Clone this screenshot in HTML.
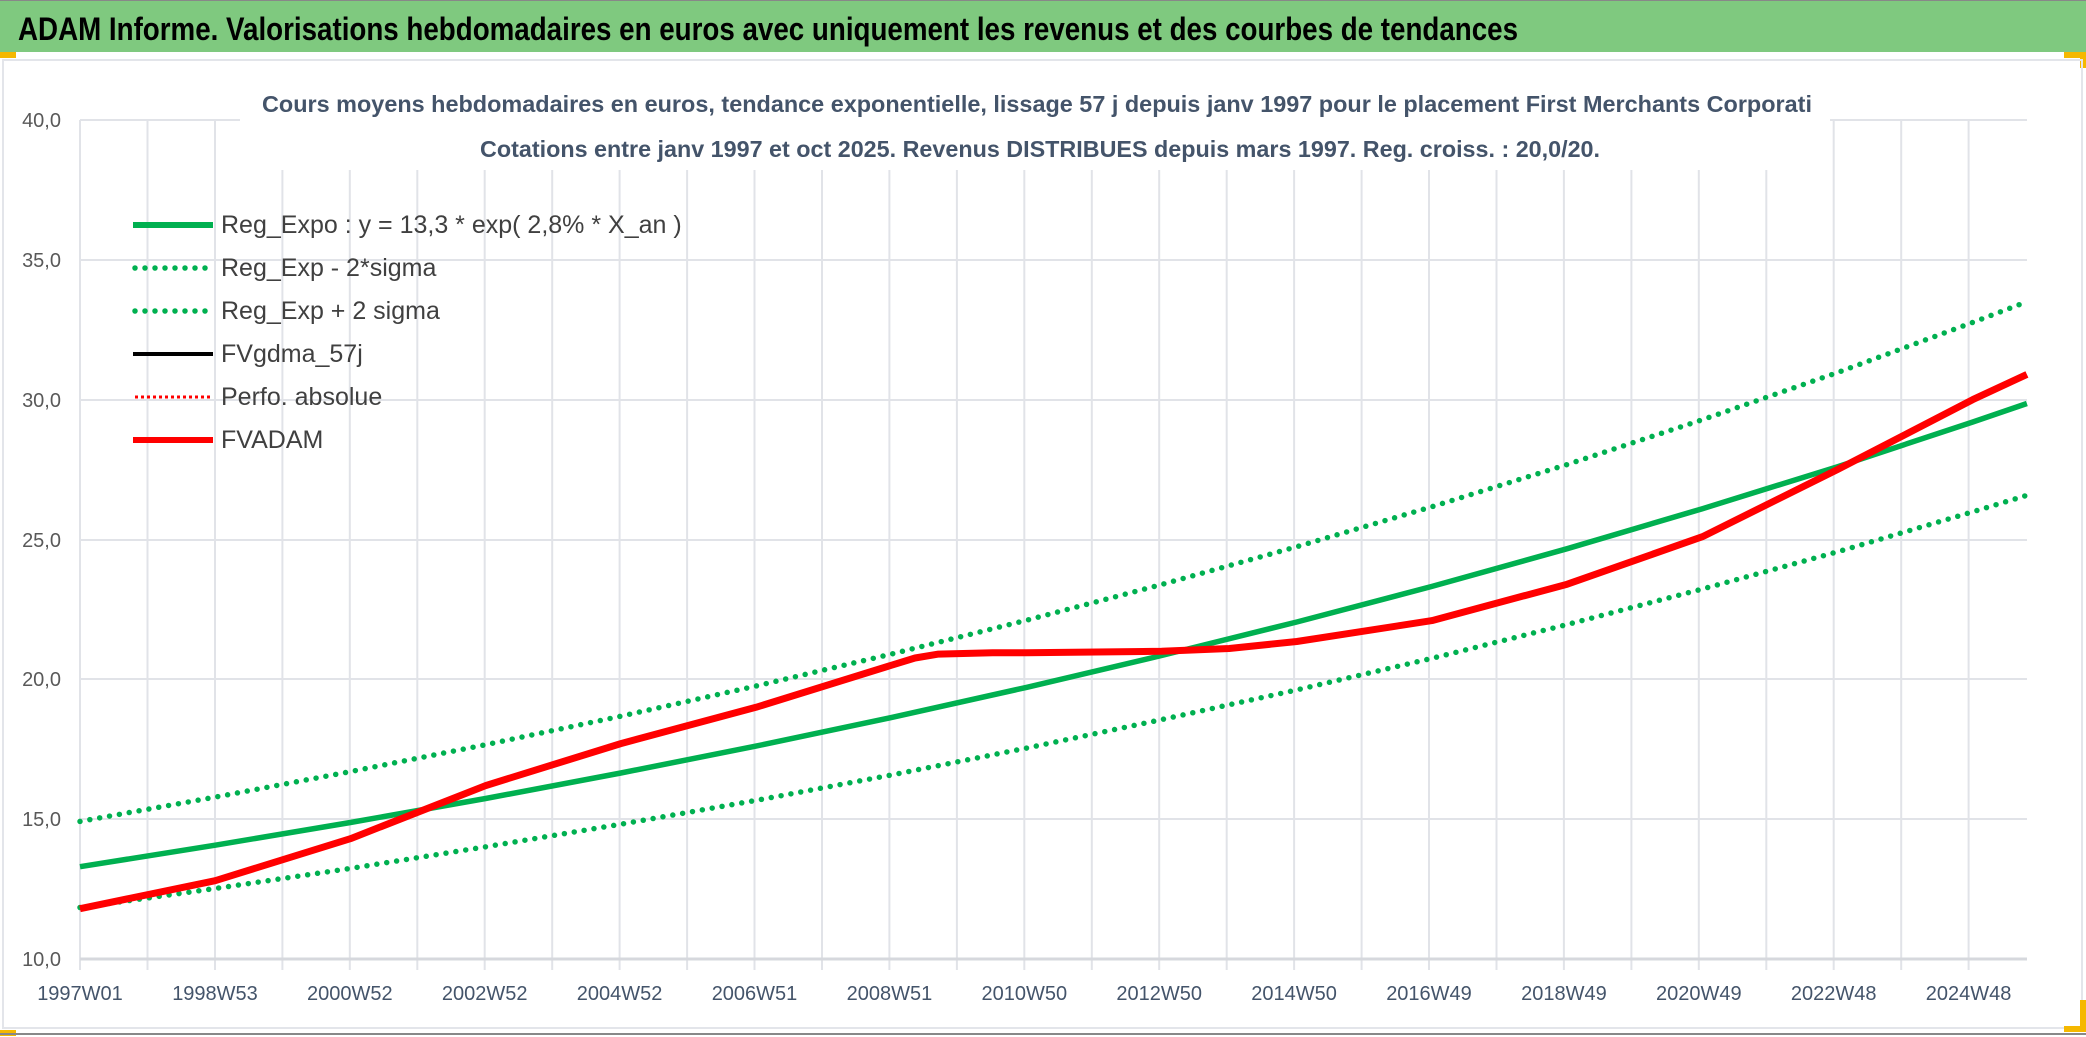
<!DOCTYPE html>
<html><head><meta charset="utf-8"><style>
html,body{margin:0;padding:0;background:#fff;}
body{width:2086px;height:1037px;overflow:hidden;position:relative;font-family:"Liberation Sans",sans-serif;}
</style></head><body>
<svg width="2086" height="1037" viewBox="0 0 2086 1037" xmlns="http://www.w3.org/2000/svg" style="position:absolute;left:0;top:0">
<rect x="0" y="0" width="2086" height="1037" fill="#fff"/>
<rect x="0" y="0" width="2086" height="52" fill="#7fc97f"/>
<rect x="0" y="0" width="2086" height="1" fill="#888"/>
<rect x="0" y="52" width="16" height="6" fill="#f5b800"/>
<rect x="2064" y="52" width="22" height="6" fill="#f5b800"/>
<rect x="2080" y="52" width="6" height="16" fill="#f5b800"/>
<rect x="3" y="60" width="2079" height="968" fill="none" stroke="#e3e5ea" stroke-width="2"/>
<rect x="2064" y="1026" width="22" height="6" fill="#f5b800"/>
<rect x="2080" y="1000" width="6" height="30" fill="#f5b800"/>
<rect x="0" y="1030" width="16" height="6" fill="#f5b800"/>
<rect x="0" y="1033" width="2086" height="2" fill="#888"/>
<text x="18" y="40" font-size="32" font-weight="bold" fill="#000" font-family="Liberation Sans Narrow, Liberation Sans, sans-serif" textLength="1500" lengthAdjust="spacingAndGlyphs">ADAM Informe. Valorisations hebdomadaires en euros avec uniquement les revenus et des courbes de tendances</text>
<g stroke="#e1e3e8" stroke-width="2">
<line x1="80" y1="120" x2="2027" y2="120"/><line x1="80" y1="260" x2="2027" y2="260"/><line x1="80" y1="400" x2="2027" y2="400"/><line x1="80" y1="540" x2="2027" y2="540"/><line x1="80" y1="679" x2="2027" y2="679"/><line x1="80" y1="819" x2="2027" y2="819"/>
<line x1="80" x2="80" y1="120" y2="970"/><line x1="147.5" x2="147.5" y1="120" y2="970"/><line x1="215" x2="215" y1="120" y2="970"/><line x1="282.4" x2="282.4" y1="120" y2="970"/><line x1="349.8" x2="349.8" y1="120" y2="970"/><line x1="417.3" x2="417.3" y1="120" y2="970"/><line x1="484.7" x2="484.7" y1="120" y2="970"/><line x1="552.2" x2="552.2" y1="120" y2="970"/><line x1="619.6" x2="619.6" y1="120" y2="970"/><line x1="687.1" x2="687.1" y1="120" y2="970"/><line x1="754.5" x2="754.5" y1="120" y2="970"/><line x1="822" x2="822" y1="120" y2="970"/><line x1="889.4" x2="889.4" y1="120" y2="970"/><line x1="956.9" x2="956.9" y1="120" y2="970"/><line x1="1024.3" x2="1024.3" y1="120" y2="970"/><line x1="1091.8" x2="1091.8" y1="120" y2="970"/><line x1="1159.2" x2="1159.2" y1="120" y2="970"/><line x1="1226.7" x2="1226.7" y1="120" y2="970"/><line x1="1294.1" x2="1294.1" y1="120" y2="970"/><line x1="1361.6" x2="1361.6" y1="120" y2="970"/><line x1="1429" x2="1429" y1="120" y2="970"/><line x1="1496.5" x2="1496.5" y1="120" y2="970"/><line x1="1563.9" x2="1563.9" y1="120" y2="970"/><line x1="1631.4" x2="1631.4" y1="120" y2="970"/><line x1="1698.8" x2="1698.8" y1="120" y2="970"/><line x1="1766.3" x2="1766.3" y1="120" y2="970"/><line x1="1833.7" x2="1833.7" y1="120" y2="970"/><line x1="1901.2" x2="1901.2" y1="120" y2="970"/><line x1="1968.6" x2="1968.6" y1="120" y2="970"/>
</g>
<line x1="80" y1="959" x2="2027" y2="959" stroke="#d6d8dd" stroke-width="3"/>
<rect x="240" y="80" width="1590" height="90" fill="#fff"/>
<g font-size="23" font-weight="bold" fill="#44546a" text-anchor="middle">
<text x="1037" y="112" textLength="1550" lengthAdjust="spacingAndGlyphs">Cours moyens hebdomadaires en euros, tendance exponentielle, lissage 57 j depuis janv 1997 pour le placement First Merchants Corporati</text>
<text x="1040" y="157" textLength="1120" lengthAdjust="spacingAndGlyphs">Cotations entre janv 1997 et oct 2025. Revenus DISTRIBUES depuis mars 1997. Reg. croiss. : 20,0/20.</text>
</g>
<g font-size="20" fill="#595959" text-anchor="end">
<text x="61" y="127">40,0</text><text x="61" y="267">35,0</text><text x="61" y="407">30,0</text><text x="61" y="547">25,0</text><text x="61" y="686">20,0</text><text x="61" y="826">15,0</text><text x="61" y="966">10,0</text>
</g>
<g font-size="20" fill="#44546a" text-anchor="middle">
<text x="80" y="1000">1997W01</text><text x="215" y="1000">1998W53</text><text x="349.8" y="1000">2000W52</text><text x="484.7" y="1000">2002W52</text><text x="619.6" y="1000">2004W52</text><text x="754.5" y="1000">2006W51</text><text x="889.4" y="1000">2008W51</text><text x="1024.3" y="1000">2010W50</text><text x="1159.2" y="1000">2012W50</text><text x="1294.1" y="1000">2014W50</text><text x="1429" y="1000">2016W49</text><text x="1563.9" y="1000">2018W49</text><text x="1698.8" y="1000">2020W49</text><text x="1833.7" y="1000">2022W48</text><text x="1968.6" y="1000">2024W48</text>
</g>
<polyline fill="none" stroke="#00b050" stroke-width="5.5" stroke-linecap="round" stroke-dasharray="0 10" points="80,821.4 215.2,797.1 350.4,771.6 485.6,744.7 620.8,716.2 756,686 891.2,654.1 1026.4,620.3 1161.6,584.5 1296.8,546.7 1432,506.7 1567.2,464.5 1702.4,419.7 1837.6,372.5 1972.8,322.4 2026.9,301.7"/>
<polyline fill="none" stroke="#00b050" stroke-width="5.5" stroke-linecap="round" stroke-dasharray="0 10" points="80,907.5 215.2,888.5 350.4,868.4 485.6,846.8 620.8,824.2 756,800.4 891.2,775 1026.4,748.1 1161.6,719.6 1296.8,689.9 1432,658.3 1567.2,624.5 1702.4,589 1837.6,551.8 1972.8,511.8 2026.9,495.3"/>
<polyline fill="none" stroke="#00b050" stroke-width="5.5" points="80,866.7 215.2,845.2 350.4,822.5 485.6,798.5 620.8,773 756,746.1 891.2,717.6 1026.4,687.4 1161.6,655.5 1296.8,622 1432,586.4 1567.2,548.7 1702.4,508.7 1837.6,466.7 1972.8,422 2026.9,403.5"/>
<polyline fill="none" stroke="#ff0000" stroke-width="7" stroke-linejoin="round" points="80,908.7 215.2,880.7 350.4,838.7 485.6,785.6 620.8,743.6 756,707.3 891.2,665.3 915,658 938.5,654.1 992.6,652.7 1026.4,652.7 1161.6,651.3 1229.2,648.5 1296.8,641.5 1432,620.6 1567.2,584.2 1702.4,536.7 1837.6,469.5 1972.8,399.6 2026.9,374.4"/>
<g font-size="25" fill="#404040">
<line x1="133" y1="225" x2="213" y2="225" stroke="#00b050" stroke-width="6"/><text x="221" y="233">Reg_Expo : y = 13,3 * exp( 2,8% *  X_an )</text>
<line x1="135" y1="268" x2="213" y2="268" stroke="#00b050" stroke-width="5.5" stroke-linecap="round" stroke-dasharray="0 10"/><text x="221" y="276">Reg_Exp - 2*sigma</text>
<line x1="135" y1="311" x2="213" y2="311" stroke="#00b050" stroke-width="5.5" stroke-linecap="round" stroke-dasharray="0 10"/><text x="221" y="319">Reg_Exp + 2 sigma</text>
<line x1="133" y1="354" x2="213" y2="354" stroke="#000" stroke-width="4"/><text x="221" y="362">FVgdma_57j</text>
<line x1="135" y1="397" x2="213" y2="397" stroke="#ff0000" stroke-width="3" stroke-dasharray="3 3"/><text x="221" y="405">Perfo. absolue</text>
<line x1="133" y1="440" x2="213" y2="440" stroke="#ff0000" stroke-width="6"/><text x="221" y="448">FVADAM</text>
</g>
</svg>
</body></html>
